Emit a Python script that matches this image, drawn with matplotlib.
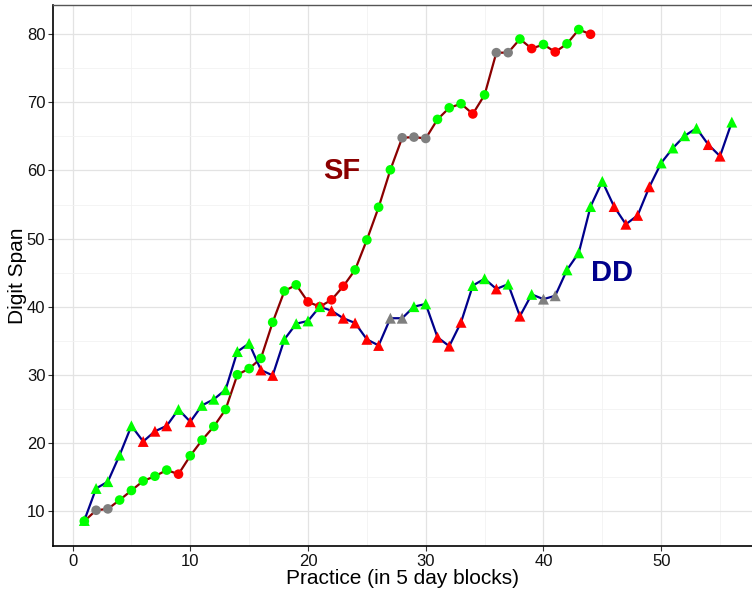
import numpy as np
import matplotlib
matplotlib.use("Agg")
import matplotlib.pyplot as plt

plt.rcParams['font.family'] = ['Liberation Sans', 'DejaVu Sans']

# Practice blocks and digit span for subject SF
sf_x = list(range(1, 45))
sf_y = [8.5, 10.1, 10.3, 11.6, 13.0, 14.4, 15.1, 16.0, 15.4, 18.1,
        20.4, 22.4, 24.9, 30.0, 30.9, 32.4, 37.7, 42.3, 43.2, 40.7,
        40.0, 41.0, 43.0, 45.4, 49.8, 54.6, 60.1, 64.8, 64.9, 64.7,
        67.5, 69.2, 69.8, 68.3, 71.1, 77.3, 77.3, 79.3, 77.9, 78.5,
        77.4, 78.6, 80.7, 80.0]
# marker colour per point: g = green, r = red, a = grey
sf_col = "gaagggggrggggggggggrrrrggggaaagggrgaagrgrggr"

# Practice blocks and digit span for subject DD
dd_x = list(range(1, 57))
dd_y = [8.6, 13.3, 14.3, 18.2, 22.5, 20.2, 21.7, 22.5, 24.9, 23.1,
        25.5, 26.4, 27.8, 33.4, 34.6, 30.7, 29.9, 35.2, 37.5, 37.9,
        40.0, 39.4, 38.3, 37.6, 35.2, 34.3, 38.3, 38.3, 40.0, 40.4,
        35.5, 34.2, 37.7, 43.1, 44.1, 42.6, 43.3, 38.6, 41.8, 41.1,
        41.6, 45.4, 47.9, 54.7, 58.4, 54.7, 52.1, 53.4, 57.6, 61.1,
        63.3, 65.1, 66.2, 63.8, 62.1, 67.1]
dd_col = "gggggrrrgrgggggrrggggrrrrraaggrrrggrgrgaaggggrrrrggggrrg"

palette = {"g": "#00ff00", "r": "#ff0000", "a": "#7f7f7f"}

fig = plt.figure(figsize=(7.52, 5.91), dpi=100)
ax = fig.add_axes([53 / 752, 45 / 591, 700 / 752, 541 / 591])

ax.plot(sf_x, sf_y, color="#8b0000", lw=1.6, zorder=2)
ax.plot(dd_x, dd_y, color="#00008b", lw=1.6, zorder=2)
ax.scatter(sf_x, sf_y, c=[palette[c] for c in sf_col], marker="o", s=48,
           linewidths=0, zorder=3)
ax.scatter(dd_x, dd_y, c=[palette[c] for c in dd_col], marker="^", s=62,
           linewidths=0, zorder=4)

ax.text(22.9, 59.9, "SF", color="#8b0000", fontsize=21, fontweight="bold",
        ha="center", va="center")
ax.text(45.85, 44.9, "DD", color="#00008b", fontsize=21, fontweight="bold",
        ha="center", va="center")

ax.set_xlim(-1.66, 57.8)
ax.set_ylim(4.85, 84.3)
ax.set_xticks([0, 10, 20, 30, 40, 50])
ax.set_yticks([10, 20, 30, 40, 50, 60, 70, 80])
ax.set_xticks(np.arange(5, 60, 10), minor=True)
ax.set_yticks(np.arange(15, 85, 10), minor=True)
ax.grid(which="major", color="#e3e3e3", lw=0.9)
ax.grid(which="minor", color="#f2f2f2", lw=0.6)
ax.set_axisbelow(True)
ax.tick_params(which="major", direction="out", length=3.5, width=0.8,
               labelsize=12, colors="#333333", labelcolor="#111111", pad=2)
ax.tick_params(which="minor", length=0)

for side in ["top", "right"]:
    ax.spines[side].set_color("#555555")
    ax.spines[side].set_linewidth(1.0)
for side in ["left", "bottom"]:
    ax.spines[side].set_color("black")
    ax.spines[side].set_linewidth(1.2)

ax.set_xlabel("Practice (in 5 day blocks)", fontsize=15, labelpad=0)
ax.set_ylabel("Digit Span", fontsize=15, labelpad=0)

fig.savefig("out.png", dpi=100)
